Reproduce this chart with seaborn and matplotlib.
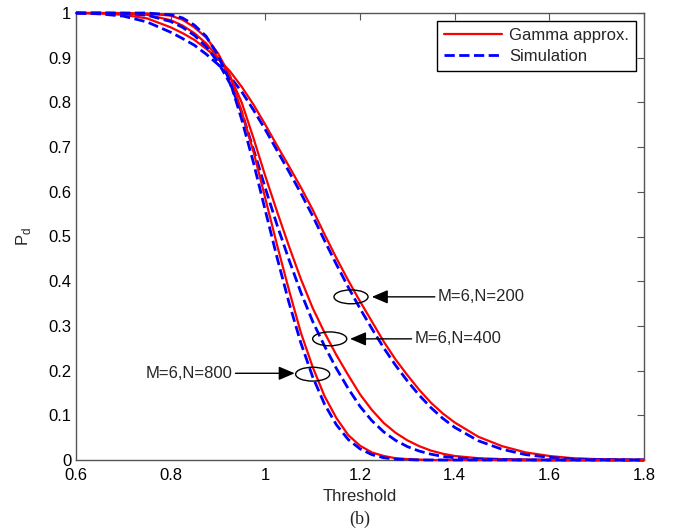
import matplotlib
matplotlib.use("Agg")
import matplotlib.pyplot as plt
import seaborn as sns
from matplotlib.patches import Ellipse
from matplotlib.ticker import FuncFormatter

threshold = [0.6, 0.65, 0.7, 0.75, 0.8, 0.825, 0.85, 0.875, 0.9, 0.925, 0.95, 0.975,
             1.0, 1.025, 1.05, 1.075, 1.1, 1.125, 1.15, 1.175, 1.2, 1.225, 1.25, 1.275,
             1.3, 1.325, 1.35, 1.375, 1.4, 1.45, 1.5, 1.55, 1.6, 1.65, 1.7, 1.75, 1.8]

gamma_200 = [1.0, 0.999, 0.996, 0.988, 0.968, 0.955, 0.940, 0.920, 0.898, 0.870, 0.835, 0.795,
             0.750, 0.703, 0.657, 0.610, 0.560, 0.505, 0.452, 0.402, 0.355, 0.310, 0.265, 0.225,
             0.190, 0.157, 0.128, 0.104, 0.084, 0.052, 0.031, 0.017, 0.009, 0.004, 0.002, 0.001, 0.0]
sim_200 = [1.0, 0.998, 0.993, 0.980, 0.957, 0.943, 0.928, 0.908, 0.885, 0.858, 0.824, 0.783,
           0.739, 0.692, 0.645, 0.597, 0.546, 0.491, 0.438, 0.387, 0.339, 0.294, 0.251, 0.212,
           0.177, 0.145, 0.117, 0.093, 0.073, 0.043, 0.024, 0.012, 0.006, 0.002, 0.001, 0.0, 0.0]

gamma_400 = [1.0, 1.0, 0.999, 0.996, 0.984, 0.972, 0.955, 0.932, 0.900, 0.860, 0.800, 0.720,
             0.635, 0.555, 0.478, 0.405, 0.340, 0.285, 0.235, 0.190, 0.147, 0.112, 0.083, 0.061,
             0.044, 0.031, 0.021, 0.014, 0.009, 0.004, 0.002, 0.001, 0.0, 0.0, 0.0, 0.0, 0.0]
sim_400 = [1.0, 1.0, 0.999, 0.995, 0.981, 0.968, 0.950, 0.925, 0.890, 0.843, 0.778, 0.695,
           0.608, 0.525, 0.448, 0.375, 0.310, 0.255, 0.205, 0.160, 0.120, 0.088, 0.063, 0.044,
           0.030, 0.020, 0.013, 0.008, 0.005, 0.002, 0.001, 0.0, 0.0, 0.0, 0.0, 0.0, 0.0]

gamma_800 = [1.0, 1.0, 1.0, 0.999, 0.994, 0.985, 0.968, 0.945, 0.910, 0.860, 0.780, 0.690,
             0.585, 0.480, 0.380, 0.285, 0.208, 0.143, 0.094, 0.056, 0.032, 0.017, 0.009, 0.004,
             0.002, 0.001, 0.0, 0.0, 0.0, 0.0, 0.0, 0.0, 0.0, 0.0, 0.0, 0.0, 0.0]
sim_800 = [1.0, 1.0, 1.0, 1.0, 0.996, 0.989, 0.973, 0.948, 0.905, 0.848, 0.762, 0.665,
           0.558, 0.452, 0.352, 0.262, 0.186, 0.125, 0.079, 0.046, 0.025, 0.012, 0.005, 0.002,
           0.001, 0.0, 0.0, 0.0, 0.0, 0.0, 0.0, 0.0, 0.0, 0.0, 0.0, 0.0, 0.0]

series_labels = ["Gamma approx.", "Simulation"]
annot_labels = ["M=6,N=200", "M=6,N=400", "M=6,N=800"]
x_ticks = [0.6, 0.8, 1.0, 1.2, 1.4, 1.6, 1.8]
y_ticks = [0, 0.1, 0.2, 0.3, 0.4, 0.5, 0.6, 0.7, 0.8, 0.9, 1.0]

sns.set_style("white")
plt.rcParams["font.family"] = ["Liberation Sans", "DejaVu Sans"]
plt.rcParams["font.size"] = 12

W, H = 679, 529
fig = plt.figure(figsize=(W / 100, H / 100), dpi=100)
ax = fig.add_axes([76 / W, 1 - 460 / H, (644 - 76) / W, (460 - 13) / H])

pairs = [(gamma_200, sim_200), (gamma_400, sim_400), (gamma_800, sim_800)]
for i, (g, s) in enumerate(pairs):
    sns.lineplot(x=threshold, y=g, ax=ax, color="#ff0000", linewidth=1.6, sort=False,
                 estimator=None, label=series_labels[0] if i == 0 else None,
                 zorder=3, clip_on=False)
    sns.lineplot(x=threshold, y=s, ax=ax, color="#0000ff", linewidth=2.0, sort=False,
                 estimator=None, linestyle="--", dashes=(3.2, 1.8),
                 label=series_labels[1] if i == 0 else None, zorder=3, clip_on=False)

ax.set_xlim(0.6, 1.8)
ax.set_ylim(0, 1)
ax.set_xticks(x_ticks)
ax.set_yticks(y_ticks)
fmt = FuncFormatter(lambda v, p: f"{v:g}")
ax.xaxis.set_major_formatter(fmt)
ax.yaxis.set_major_formatter(fmt)
ax.tick_params(direction="in", top=True, right=True, length=5, width=0.8,
               color="#555555", labelcolor="black", labelsize=12)
ax.tick_params(axis="x", pad=6)
for sp in ax.spines.values():
    sp.set_color("#555555")
    sp.set_linewidth(1.0)

ax.set_xlabel("Threshold", fontsize=12, labelpad=4)
ax.set_ylabel(r"P$_\mathregular{d}$", fontsize=12, labelpad=11)

leg = ax.legend(loc="upper right", fontsize=12, frameon=True, fancybox=False,
                edgecolor="black", framealpha=1, handlelength=3.5, handletextpad=0.4,
                borderpad=0.4, labelspacing=0.35, borderaxespad=0.5)
leg.get_frame().set_linewidth(1.0)

# ellipses + arrows
ell_specs = [(1.181, 0.365), (1.136, 0.271), (1.100, 0.192)]
for (cx, cy) in ell_specs:
    ax.add_patch(Ellipse((cx, cy), 0.072, 0.031, fill=False, edgecolor="black", lw=1.0, zorder=4))

aprops = dict(arrowstyle="-|>,head_length=0.75,head_width=0.32", color="black", lw=1.0,
              shrinkA=0, shrinkB=0, mutation_scale=13)
ax.annotate(annot_labels[0], xy=(1.225, 0.365), xytext=(1.365, 0.365), ha="left", va="center",
            fontsize=12, arrowprops=aprops)
ax.annotate(annot_labels[1], xy=(1.179, 0.271), xytext=(1.316, 0.271), ha="left", va="center",
            fontsize=12, arrowprops=aprops)
ax.annotate(annot_labels[2], xy=(1.062, 0.194), xytext=(0.93, 0.194), ha="right", va="center",
            fontsize=12, arrowprops=aprops)

fig.text(360 / W, 1 - 519 / H, "(b)", ha="center", va="center", fontsize=13,
         family=["Liberation Serif", "DejaVu Serif"])

fig.savefig("out.png", dpi=100)
